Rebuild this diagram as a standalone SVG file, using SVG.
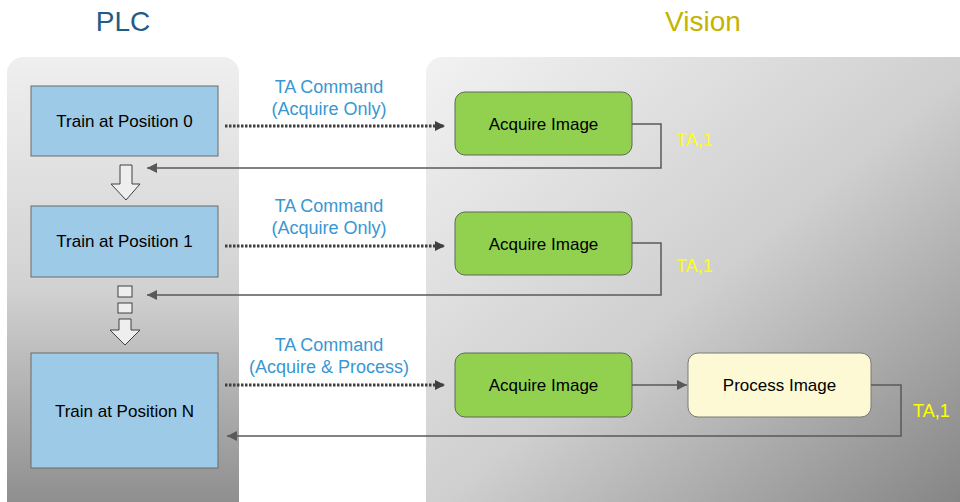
<svg xmlns="http://www.w3.org/2000/svg" width="960" height="502" viewBox="0 0 960 502">
<defs>
<linearGradient id="gPlc" x1="0" y1="0" x2="0" y2="1">
<stop offset="0" stop-color="#efefef"/>
<stop offset="0.5" stop-color="#d2d2d2"/>
<stop offset="1" stop-color="#8a8a8a"/>
</linearGradient>
<linearGradient id="gVis" x1="0" y1="0" x2="1" y2="1">
<stop offset="0" stop-color="#f2f2f2"/>
<stop offset="0.5" stop-color="#cfcfcf"/>
<stop offset="1" stop-color="#7f7f7f"/>
</linearGradient>
<marker id="ah" viewBox="0 0 10 10" refX="10" refY="5" markerWidth="10" markerHeight="10" markerUnits="userSpaceOnUse" orient="auto">
<path d="M0,0 L10,5 L0,10 z" fill="#595959"/>
</marker>
<marker id="ahd" viewBox="0 0 10 10" refX="10" refY="5" markerWidth="10" markerHeight="10" markerUnits="userSpaceOnUse" orient="auto">
<path d="M0,0 L10,5 L0,10 z" fill="#404040"/>
</marker>
</defs>
<style>
.t{font-family:"Liberation Sans",Arial,sans-serif;}
.title{font-size:28px;text-anchor:middle;}
.lbl{font-size:17px;fill:#000;text-anchor:middle;}
.cmd{font-size:18px;fill:#3797d3;text-anchor:middle;}
.ta{font-size:18px;fill:#ffff00;}
.plc{fill:#9dcae7;stroke:#6b6b6b;stroke-width:1;}
.acq{fill:#92d050;stroke:#5f6b55;stroke-width:1;}
.proc{fill:#fdf9d4;stroke:#7a7a7a;stroke-width:1;}
.ret{fill:none;stroke:#595959;stroke-width:1.5;}
.dot{fill:none;stroke:#404040;stroke-width:3;stroke-dasharray:2.5 1.5;}
.blk{fill:#eeeeee;stroke:#404040;stroke-width:1;}
</style>
<rect width="960" height="502" fill="#ffffff"/>
<rect x="7" y="57" width="232" height="460" rx="16" fill="url(#gPlc)"/>
<rect x="426" y="57" width="560" height="460" rx="16" fill="url(#gVis)"/>
<text class="t title" x="123" y="31" fill="#225d88">PLC</text>
<text class="t title" x="703" y="31" fill="#c4b400">Vision</text>

<g id="plc0"><rect class="plc" x="31" y="86" width="187" height="70"/><text class="t lbl" x="124.5" y="127">Train at Position 0</text></g>
<g id="plc1"><rect class="plc" x="31" y="206" width="187" height="71"/><text class="t lbl" x="124.5" y="247">Train at Position 1</text></g>
<g id="plcN"><rect class="plc" x="31" y="353" width="187" height="115"/><text class="t lbl" x="124.5" y="417">Train at Position N</text></g>

<g id="step1"><path class="blk" d="M120,165 H132 V184 H140 L126,200 L111,184 H120 Z"/></g>
<g id="dots"><rect class="blk" x="118" y="286" width="14" height="11"/><rect class="blk" x="118" y="303" width="14" height="10"/></g>
<g id="step2"><path class="blk" d="M119,319 H131 V330 H140 L125,345 L110,330 H119 Z"/></g>

<g id="acq0"><rect class="acq" x="455" y="92" width="177" height="63" rx="10"/><text class="t lbl" x="543.5" y="130">Acquire Image</text></g>
<g id="acq1"><rect class="acq" x="455" y="212" width="177" height="63" rx="10"/><text class="t lbl" x="543.5" y="250">Acquire Image</text></g>
<g id="acq2"><rect class="acq" x="455" y="353" width="177" height="64" rx="10"/><text class="t lbl" x="543.5" y="391">Acquire Image</text></g>
<g id="proc"><rect class="proc" x="688" y="353" width="183" height="64" rx="10"/><text class="t lbl" x="779.5" y="391">Process Image</text></g>

<g id="connectors">
<path class="dot" d="M225,126 H445" marker-end="url(#ahd)"/>
<path class="dot" d="M225,246 H445" marker-end="url(#ahd)"/>
<path class="dot" d="M225,385 H445" marker-end="url(#ahd)"/>
<path class="ret" d="M632,124 H661 V168 H147" marker-end="url(#ah)"/>
<path class="ret" d="M632,243 H661 V295 H147" marker-end="url(#ah)"/>
<path class="ret" d="M632,385 H687" marker-end="url(#ah)"/>
<path class="ret" d="M871,385 H901 V436 H227" marker-end="url(#ah)"/>
</g>

<g id="labels">
<text class="t cmd" x="329" y="93">TA Command</text>
<text class="t cmd" x="329" y="115">(Acquire Only)</text>
<text class="t cmd" x="329" y="212">TA Command</text>
<text class="t cmd" x="329" y="234">(Acquire Only)</text>
<text class="t cmd" x="329" y="351">TA Command</text>
<text class="t cmd" x="329" y="373">(Acquire &amp; Process)</text>
<text class="t ta" x="676" y="146">TA,1</text>
<text class="t ta" x="676" y="272">TA,1</text>
<text class="t ta" x="913" y="417">TA,1</text>
</g>
</svg>
